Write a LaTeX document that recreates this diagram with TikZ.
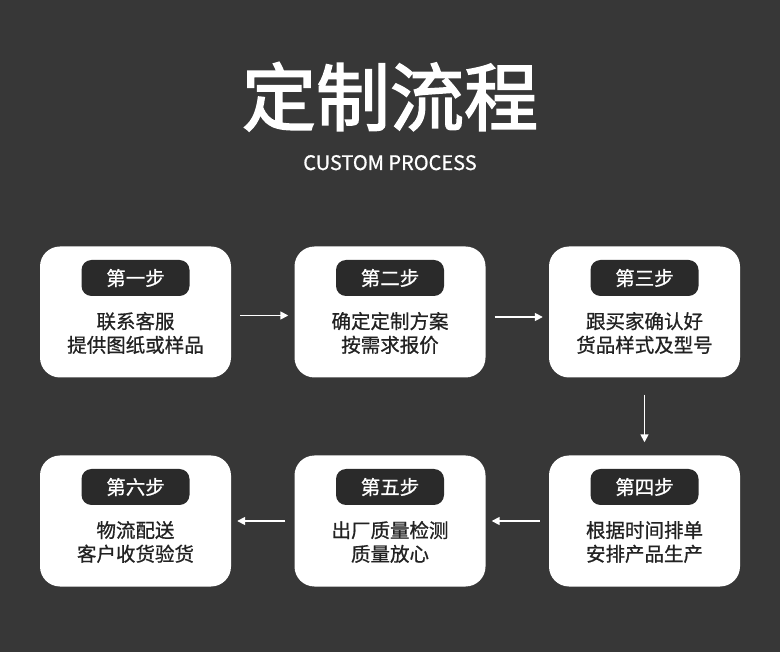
\documentclass[tikz,border=0pt]{standalone}
\usepackage{fontspec}
\newfontfamily\cjk{Noto Sans CJK SC}
\newfontfamily\cjkmed[FakeBold=0.8]{Noto Sans CJK SC}
\newfontfamily\cjktitle[FakeBold=2.2]{Noto Sans CJK SC}
\usetikzlibrary{arrows.meta}
\definecolor{bgc}{RGB}{55,55,55}
\definecolor{pillc}{RGB}{42,42,42}
\definecolor{txtc}{RGB}{34,34,34}
\tikzset{
  stepbox/.style={fill=white, draw=none, rounded corners=20pt, minimum width=191pt, minimum height=131pt, inner sep=0pt},
  pill/.style={fill=pillc, rounded corners=10pt, minimum width=108pt, minimum height=36pt, inner sep=0pt, text=white, font=\cjkmed\fontsize{19.5}{23.7}\selectfont},
  desc/.style={align=center, text=txtc, inner sep=0pt, font=\cjkmed\fontsize{19.5}{23.7}\selectfont},
  arr/.style={draw=white, line width=1.6pt, -{Triangle[length=8pt,width=8pt]}}
}
\begin{document}
\begin{tikzpicture}[x=1pt,y=-1pt]
\fill[bgc] (0,0) rectangle (780,652);
\useasboundingbox (0,0) rectangle (780,652);
\node[anchor=base, text=white, font=\cjktitle\fontsize{74}{80}\selectfont] (title) at (390,125) {定制流程};
\node[anchor=base, text=white, font=\cjkmed\fontsize{20}{24}\selectfont] (sub) at (390,170) {CUSTOM PROCESS};
% boxes
\node[stepbox] (b1) at (135.5,312) {};
\node[stepbox] (b2) at (390,312) {};
\node[stepbox] (b3) at (644.5,312) {};
\node[stepbox] (b6) at (135.5,521) {};
\node[stepbox] (b5) at (390,521) {};
\node[stepbox] (b4) at (644.5,521) {};
% pills
\node[pill] (p1) at (135.5,278) {第一步};
\node[pill] (p2) at (390,278) {第二步};
\node[pill] (p3) at (644.5,278) {第三步};
\node[pill] (p6) at (135.5,487) {第六步};
\node[pill] (p5) at (390,487) {第五步};
\node[pill] (p4) at (644.5,487) {第四步};
% texts
\node[desc] (t1) at (135.5,333) {联系客服\\提供图纸或样品};
\node[desc] (t2) at (390,333) {确定定制方案\\按需求报价};
\node[desc] (t3) at (644.5,333) {跟买家确认好\\货品样式及型号};
\node[desc] (t6) at (135.5,542) {物流配送\\客户收货验货};
\node[desc] (t5) at (390,542) {出厂质量检测\\质量放心};
\node[desc] (t4) at (644.5,542) {根据时间排单\\安排产品生产};
% arrows
\draw[arr] ([shift={(9,3.5)}]b1.east) -- ([shift={(-6,3.5)}]b2.west);
\draw[arr] ([shift={(9,5)}]b2.east) -- ([shift={(-6,5)}]b3.west);
\draw[arr] ([shift={(0,17)}]b3.south) -- ([shift={(0,-13)}]b4.north);
\draw[arr] ([shift={(-9,0)}]b4.west) -- ([shift={(6,0)}]b5.east);
\draw[arr] ([shift={(-9,0)}]b5.west) -- ([shift={(6,0)}]b6.east);
\end{tikzpicture}
\end{document}
